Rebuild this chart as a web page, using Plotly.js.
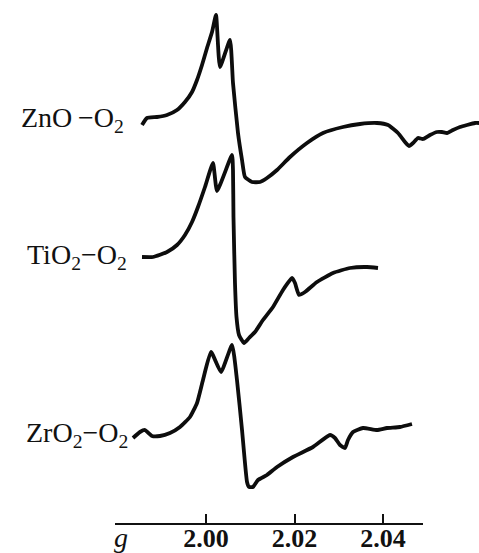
<!DOCTYPE html>
<html>
<head>
<meta charset="utf-8">
<script src="https://cdn.plot.ly/plotly-3.0.1.min.js"></script>
<style>html,body{margin:0;padding:0;background:#fff;}#chart{width:479px;height:553px;}</style>
</head>
<body>
<div id="chart"></div>
<script>
// g-values and relative EPR signal (arbitrary units, height above the g axis)
var znoG = [1.98554,1.98667,1.98893,1.99119,1.99345,1.99525,1.99684,1.99797,1.99910,2.00023,2.00136,2.00226,2.00316,2.00542,2.00610,2.00723,2.00814,2.00881,2.01040,2.01220,2.01379,2.01605,2.01898,2.02282,2.02644,2.03096,2.03480,2.03864,2.04113,2.04339,2.04497,2.04588,2.04678,2.04791,2.04904,2.05062,2.05220,2.05333,2.05446,2.05582,2.05740,2.05898,2.06079,2.06170];
var znoSignal = [398,405,406,408,413,421,431,443,458,475,491,508,456,483,440,390,363,346,341,341,345,353,366,380,390,396,399,400,398,390,381,377,380,385,384,388,391,391,390,393,396,398,400,400];

var tioG = [1.98554,1.98802,1.99119,1.99345,1.99525,1.99684,1.99819,1.99977,2.00158,2.00249,2.00588,2.00610,2.00621,2.00655,2.00689,2.00746,2.00859,2.00972,2.01107,2.01288,2.01514,2.01740,2.01944,2.02011,2.02102,2.02237,2.02508,2.02870,2.03254,2.03638,2.03887];
var tioSignal = [266,266,271,278,288,301,316,336,360,332,368,353,306,240,206,188,180,185,191,203,216,233,245,240,228,231,241,250,255,256,255];

var zroG = [1.98350,1.98508,1.98621,1.98780,1.98960,1.99186,1.99412,1.99638,1.99797,1.99932,2.00113,2.00339,2.00588,2.00700,2.00814,2.00927,2.00972,2.01062,2.01175,2.01379,2.01605,2.01966,2.02418,2.02802,2.02915,2.03028,2.03141,2.03209,2.03322,2.03548,2.03864,2.04090,2.04384,2.04655];
var zroSignal = [85,91,93,87,87,90,96,106,120,143,171,151,178,143,93,41,36,36,43,48,56,66,76,88,85,78,75,83,91,95,93,95,96,99];

var seriesNames = ['ZnO\u2009\u2212O<sub>2</sub>', 'TiO<sub>2</sub>\u2212O<sub>2</sub>', 'ZrO<sub>2</sub>\u2212O<sub>2</sub>'];
var tickVals = [2.00, 2.02, 2.04];
var tickText = ['2.00', '2.02', '2.04'];
var axisName = 'g';

var W = 479, H = 553, B = 30;
var PLOT_H = H - B;
var lineStyle = {color: '#0d0d0d', width: 3.8, shape: 'spline', smoothing: 0.45};

function tr(x, y) {
  return {x: x, y: y, type: 'scatter', mode: 'lines', line: lineStyle,
          xaxis: 'x', yaxis: 'y', hoverinfo: 'skip', showlegend: false};
}

var traces = [tr(znoG, znoSignal), tr(tioG, tioSignal), tr(zroG, zroSignal),
  {x: tickVals, y: tickVals.map(function(){return null;}), type: 'scatter', mode: 'lines',
   xaxis: 'x2', yaxis: 'y', hoverinfo: 'skip', showlegend: false}];

// pixel <-> g calibration of the printed axis
var gPerPx = 1 / 4425, gAtPx206 = 2.0;
function gAt(px) { return gAtPx206 + (px - 206) * gPerPx; }

var serif = 'Liberation Serif, Times New Roman, serif';
var labelFont = {family: serif, size: 28, color: '#111'};
var labelPos = [[126, 120], [129, 256], [130, 434]];
var annotations = seriesNames.map(function (t, i) {
  return {text: t, xref: 'paper', yref: 'paper', x: labelPos[i][0] / W,
          y: (PLOT_H - labelPos[i][1]) / PLOT_H, xanchor: 'right', yanchor: 'middle',
          showarrow: false, font: labelFont};
});
annotations.push({text: '<i>' + axisName + '</i>', xref: 'paper', yref: 'paper',
  x: 121 / W, y: -(537 - PLOT_H) / PLOT_H, xanchor: 'center', yanchor: 'middle',
  showarrow: false, font: {family: serif, size: 28, color: '#111'}});

var layout = {
  width: W, height: H,
  margin: {l: 0, r: 0, t: 0, b: B, pad: 0},
  paper_bgcolor: '#fff', plot_bgcolor: 'rgba(0,0,0,0)',
  showlegend: false,
  xaxis: {range: [gAt(0), gAt(W)], visible: false, fixedrange: true},
  xaxis2: {domain: [115 / W, 423 / W], range: [gAt(115), gAt(423)], anchor: 'y',
           showline: true, linecolor: '#111', linewidth: 2.4,
           ticks: 'inside', ticklen: 9, tickwidth: 2, tickcolor: '#111',
           tickvals: tickVals, ticktext: tickText, showgrid: false, zeroline: false,
           ticklabelstandoff: -10,
           tickfont: {family: serif, size: 26, color: '#111', weight: 'bold'},
           automargin: false, fixedrange: true},
  yaxis: {range: [0, PLOT_H], visible: false, domain: [0, 1], fixedrange: true},
  annotations: annotations
};

Plotly.newPlot('chart', traces, layout, {staticPlot: true, displayModeBar: false});
</script>
</body>
</html>
